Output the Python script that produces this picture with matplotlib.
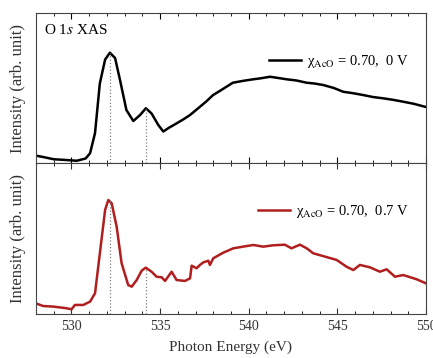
import matplotlib
matplotlib.use('Agg')
import matplotlib.pyplot as plt
from matplotlib.ticker import MultipleLocator

plt.rcParams['font.family'] = ['Liberation Serif', 'DejaVu Serif']
plt.rcParams['mathtext.fontset'] = 'stix'

# O 1s XAS, 0 V
e_0v = [528.0, 528.4, 529.0, 529.7, 530.3, 530.8, 531.05, 531.33, 531.6, 531.9, 532.17,
        532.46, 532.74, 533.1, 533.49, 533.87, 534.2, 534.52, 534.9, 535.18, 535.5,
        535.93, 536.3, 536.69, 537.25, 537.6, 537.99, 538.5, 539.1, 539.7, 540.25,
        540.7, 541.2, 541.6, 542.14, 542.7, 543.27, 543.7, 544.2, 544.8, 545.33,
        545.9, 546.46, 547.0, 547.6, 548.1, 548.7, 549.3, 549.94]
i_0v = [0.049, 0.04, 0.025, 0.02, 0.015, 0.03, 0.065, 0.2, 0.53, 0.69, 0.735,
        0.70, 0.553, 0.353, 0.28, 0.32, 0.365, 0.33, 0.253, 0.21, 0.235,
        0.264, 0.29, 0.32, 0.375, 0.41, 0.453, 0.49, 0.535, 0.548, 0.558,
        0.565, 0.575, 0.568, 0.558, 0.55, 0.535, 0.53, 0.52, 0.5, 0.475,
        0.465, 0.453, 0.44, 0.431, 0.422, 0.409, 0.395, 0.375]

# O 1s XAS, 0.7 V
e_07v = [528.0, 528.4, 528.98, 529.73, 530.0, 530.2, 530.67, 531.05, 531.33, 531.6, 531.9,
         532.08, 532.27, 532.55, 532.83, 533.2, 533.4, 533.68, 533.96, 534.19, 534.52,
         534.8, 535.09, 535.28, 535.65, 535.93, 536.4, 536.69, 536.78, 537.06, 537.25,
         537.44, 537.72, 537.81, 538.0, 538.56, 539.13, 539.88, 540.26, 540.82, 541.38,
         542.04, 542.41, 542.89, 543.27, 543.64, 544.3, 544.96, 545.52, 545.9, 546.27,
         546.84, 547.4, 547.78, 548.25, 548.72, 549.47, 550.0]
i_07v = [0.07, 0.053, 0.049, 0.038, 0.031, 0.06, 0.06, 0.082, 0.137, 0.40, 0.69,
         0.755, 0.733, 0.578, 0.336, 0.192, 0.181, 0.225, 0.287, 0.307, 0.28,
         0.247, 0.243, 0.219, 0.28, 0.225, 0.219, 0.236, 0.32, 0.303, 0.325,
         0.342, 0.353, 0.325, 0.369, 0.406, 0.435, 0.45, 0.457, 0.446, 0.455,
         0.459, 0.435, 0.459, 0.435, 0.402, 0.38, 0.358, 0.313, 0.291, 0.325,
         0.309, 0.28, 0.296, 0.247, 0.258, 0.23, 0.203]

peaks = [532.15, 534.2]
peak_top_0v = [0.735, 0.365]
peak_top_07v = [0.755, 0.307]

fig = plt.figure(figsize=(4.33, 3.58), dpi=100)
ax1 = fig.add_axes([36 / 433, 1 - 163 / 358, 390 / 433, 150 / 358])
ax2 = fig.add_axes([36 / 433, 1 - 314 / 358, 390 / 433, 151 / 358])

ax1.plot(e_0v, i_0v, color='black', lw=1.8, label='χ$_{\\rm AcO}$ = 0.70,  0 V')
ax2.plot(e_07v, i_07v, color='#b01e1e', lw=1.8, label='χ$_{\\rm AcO}$ = 0.70,  0.7 V')

for x, top in zip(peaks, peak_top_0v):
    ax1.plot([x, x], [0, top], color='gray', ls=':', lw=0.9)
for x, top in zip(peaks, peak_top_07v):
    ax2.plot([x, x], [0, top], color='gray', ls=':', lw=0.9)

for ax in (ax1, ax2):
    ax.set_xlim(528, 550)
    ax.set_ylim(0, 1)
    ax.xaxis.set_major_locator(MultipleLocator(5))
    ax.xaxis.set_minor_locator(MultipleLocator(1))
    ax.tick_params(axis='x', which='both', direction='in', top=True, bottom=True)
    ax.tick_params(axis='x', which='major', length=4)
    ax.tick_params(axis='x', which='minor', length=2.5)
    ax.set_yticks([])
    ax.set_ylabel('Intensity (arb. unit)', fontsize=12, color='#333333')
    ax.yaxis.set_label_coords(-0.025, 0.5)
    for s in ax.spines.values():
        s.set_color('#444444')
    ax.legend(loc='upper right', bbox_to_anchor=(0.99, 0.82), frameon=False,
              fontsize=10.5, handlelength=2.2, handletextpad=0.4)

ax1.tick_params(axis='x', labelbottom=False)
ax2.tick_params(axis='x', labelsize=10, colors='#333333', pad=4)
ax2.set_xlabel('Photon Energy (eV)', fontsize=11, color='#333333', labelpad=6)
ax1.text(0.02, 0.89, r'O 1$s$ XAS', transform=ax1.transAxes, fontsize=11,
         va='center', ha='left')

fig.savefig('out.png', dpi=100)
